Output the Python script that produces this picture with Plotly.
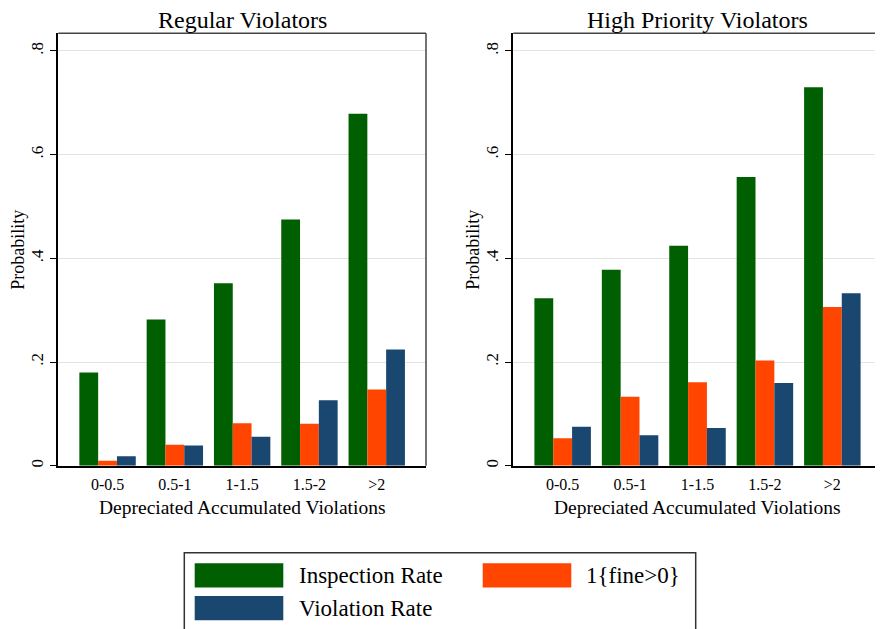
import plotly.graph_objects as go

categories = ["0-0.5", "0.5-1", "1-1.5", "1.5-2", ">2"]
series_names = ["Inspection Rate", "1{fine>0}", "Violation Rate"]
colors = ["#005f00", "#ff4500", "#1a476f"]

regular_inspection = [0.180, 0.282, 0.352, 0.475, 0.679]
regular_fine = [0.0096, 0.0405, 0.082, 0.081, 0.147]
regular_violation = [0.018, 0.039, 0.056, 0.126, 0.224]

hpv_inspection = [0.323, 0.378, 0.424, 0.557, 0.730]
hpv_fine = [0.053, 0.133, 0.161, 0.203, 0.306]
hpv_violation = [0.075, 0.0585, 0.0727, 0.1595, 0.3325]

y_tickvals = [0, 0.2, 0.4, 0.6, 0.8]
y_ticktext = ["0", ".2", ".4", ".6", ".8"]

# page body has an 8px default margin; lay out in window pixels
OFF = 8
W, H = 883 - OFF, 629 - OFF
FONT = "Liberation Serif, Times New Roman, DejaVu Serif, serif"

fig = go.Figure()
panels = [
    (["x", "y"], [regular_inspection, regular_fine, regular_violation]),
    (["x2", "y2"], [hpv_inspection, hpv_fine, hpv_violation]),
]
for (xa, ya), vals in panels:
    for name, v, c in zip(series_names, vals, colors):
        fig.add_trace(go.Bar(x=categories, y=v, name=name, marker_color=c,
                             marker_line_width=0, xaxis=xa, yaxis=ya,
                             showlegend=False))

def px_x(p):
    return (p - OFF) / W

def px_y(p):
    return 1 - (p - OFF) / H

ydom = [px_y(465.7), px_y(33.3)]
yaxis_common = dict(
    range=[0, 0.834], tickvals=y_tickvals, ticktext=y_ticktext, tickangle=-90,
    showgrid=True, gridcolor="#e3e3e3", gridwidth=1.3, zeroline=False,
    ticks="outside", ticklen=7, tickcolor="#000", tickwidth=1,
    showline=True, linecolor="#000", linewidth=1.5, mirror=False,
    tickfont=dict(family=FONT, size=17, color="#000"),
    domain=ydom, automargin=False,
)
xaxis_common = dict(
    type="category", range=[-0.732, 4.732], showgrid=False, zeroline=False,
    ticks="", showline=True, linecolor="#000", linewidth=1.5, mirror=False,
    tickfont=dict(family=FONT, size=16, color="#000"), ticklabelstandoff=3,
    automargin=False,
)

fig.update_layout(
    width=W, height=H, margin=dict(l=0, r=0, t=0, b=0),
    paper_bgcolor="white", plot_bgcolor="white",
    barmode="group", bargap=0.162, bargroupgap=0,
    font=dict(family=FONT, color="#000"),
    xaxis=dict(**xaxis_common, domain=[px_x(58.3), px_x(426)], anchor="y"),
    xaxis2=dict(**xaxis_common, domain=[px_x(513.3), px_x(881.7)], anchor="y2"),
    yaxis=dict(**yaxis_common, anchor="x"),
    yaxis2=dict(**yaxis_common, anchor="x2"),
)

panel_x = [(58.3, 426), (513.3, 881.7)]
titles = ["Regular Violators", "High Priority Violators"]
for (x0, x1), txt in zip(panel_x, titles):
    # frame top/right lines
    fig.add_shape(type="line", xref="paper", yref="paper", x0=px_x(x0), x1=px_x(x1),
                  y0=px_y(33.3), y1=px_y(33.3), line=dict(color="#444", width=1.5))
    fig.add_shape(type="line", xref="paper", yref="paper", x0=px_x(x1), x1=px_x(x1),
                  y0=px_y(33.3), y1=px_y(465.7), line=dict(color="#444", width=1.5))
    cx = (x0 + x1) / 2
    fig.add_annotation(text=txt, x=px_x(cx), y=px_y(20), xref="paper", yref="paper",
                       showarrow=False, xanchor="center", yanchor="middle", borderpad=0,
                       font=dict(family=FONT, size=24, color="#000"))
    fig.add_annotation(text="Depreciated Accumulated Violations", x=px_x(cx), y=px_y(507),
                       xref="paper", yref="paper", showarrow=False, xanchor="center",
                       yanchor="middle", font=dict(family=FONT, size=19.5, color="#000"))
    fig.add_annotation(text="Probability", x=px_x(x0 - 40), y=px_y(249.5), textangle=-90,
                       xref="paper", yref="paper", showarrow=False, xanchor="center",
                       yanchor="middle", font=dict(family=FONT, size=18, color="#000"))

# legend box (drawn)
fig.add_shape(type="rect", xref="paper", yref="paper", x0=px_x(184.3), x1=px_x(695.7),
              y0=px_y(640), y1=px_y(552.7), line=dict(color="#333", width=1.5), fillcolor="white")
legend_items = [
    (series_names[0], colors[0], 194.7, 563.3, 296.7),
    (series_names[1], colors[1], 482.7, 563.3, 584.0),
    (series_names[2], colors[2], 194.7, 596.0, 296.7),
]
for name, c, sx, sy, tx in legend_items:
    fig.add_shape(type="rect", xref="paper", yref="paper", x0=px_x(sx), x1=px_x(sx + 88.6),
                  y0=px_y(sy + 24.3), y1=px_y(sy), line=dict(width=0), fillcolor=c)
    fig.add_annotation(text=name, x=px_x(tx), y=px_y(sy + 12.5), xref="paper", yref="paper",
                       showarrow=False, xanchor="left", yanchor="middle",
                       font=dict(family=FONT, size=23, color="#000"))

fig.write_html("out.html")
